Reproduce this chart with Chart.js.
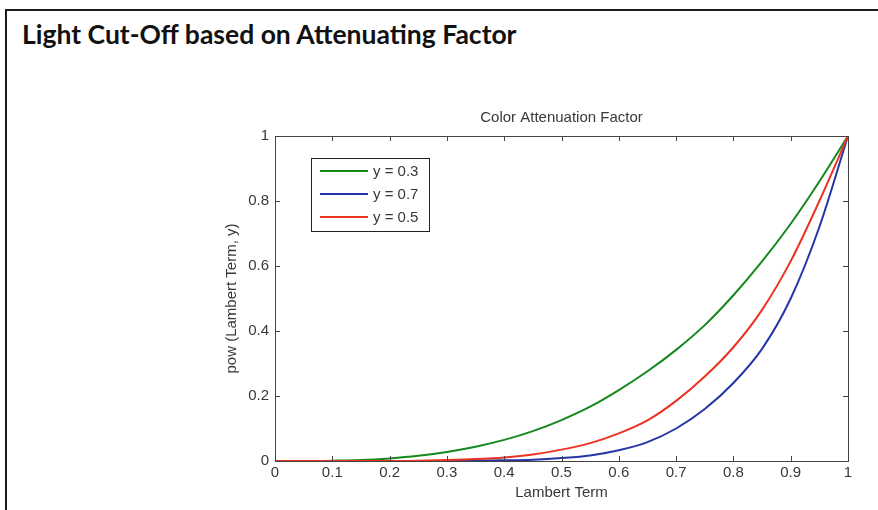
<!DOCTYPE html>
<html>
<head>
<meta charset="utf-8">
<script src="https://cdn.jsdelivr.net/npm/chart.js@4.4.0/dist/chart.umd.min.js"></script>
<style>
html, body { margin: 0; padding: 0; background: #fff; }
#wrap { position: relative; width: 878px; height: 510px; overflow: hidden; }
#frame { position: absolute; left: 5px; top: 9px; width: 900px; height: 600px;
         border-left: 2px solid #1a1a1a; border-top: 2px solid #1a1a1a; }
#heading { position: absolute; left: 22px; top: 21px; font: bold 26.5px/26px Lato, sans-serif; color: #111; }
canvas { position: absolute; left: 0; top: 0; }
</style>
</head>
<body>
<div id="wrap">
  <div id="frame"></div>
  <div id="heading">Light Cut-Off based on Attenuating Factor</div>
  <canvas id="attChart" width="878" height="510"></canvas>
</div>
<script>
// values
const lambertTerm = [0, 0.05, 0.1, 0.15, 0.2, 0.25, 0.3, 0.35, 0.4, 0.45, 0.5,
                     0.55, 0.6, 0.65, 0.7, 0.75, 0.8, 0.85, 0.9, 0.95, 1];
const powY03 = [0, 0, 0.001, 0.003, 0.008, 0.016, 0.028, 0.044, 0.065, 0.092, 0.126,
                0.167, 0.218, 0.276, 0.342, 0.418, 0.51, 0.614, 0.73, 0.86, 1];
const powY07 = [0, 0, 0, 0, 0, 0, 0, 0.001, 0.002, 0.004, 0.009,
                0.017, 0.033, 0.058, 0.1, 0.16, 0.24, 0.345, 0.5, 0.72, 1];
const powY05 = [0, 0, 0, 0, 0, 0.001, 0.003, 0.006, 0.011, 0.02, 0.035,
                0.055, 0.085, 0.125, 0.185, 0.26, 0.35, 0.465, 0.615, 0.8, 1];
const seriesLabels = ['y = 0.3', 'y = 0.7', 'y = 0.5'];
const xTickValues = [0, 0.1, 0.2, 0.3, 0.4, 0.5, 0.6, 0.7, 0.8, 0.9, 1];
const xTickLabels = ['0', '0.1', '0.2', '0.3', '0.4', '0.5', '0.6', '0.7', '0.8', '0.9', '1'];
const yTickValues = [0, 0.2, 0.4, 0.6, 0.8, 1];
const yTickLabels = ['0', '0.2', '0.4', '0.6', '0.8', '1'];

const plotTitle = 'Color Attenuation Factor';
const textColor = '#383838';
const axisColor = '#444';
const fontFamily = '"Liberation Sans", Arial, sans-serif';

function toPoints(ys) {
    return lambertTerm.map((x, i) => ({ x: x, y: ys[i] }));
}

// MATLAB-like box, inward ticks, title and boxed legend
const matlabFrame = {
    id: 'matlabFrame',
    afterDatasetsDraw(chart) {
        const { ctx, chartArea: a, scales } = chart;
        ctx.save();
        ctx.strokeStyle = axisColor;
        ctx.lineWidth = 1;
        ctx.strokeRect(a.left + 0.5, a.top + 0.5, a.right - a.left, a.bottom - a.top);
        const len = 5;
        ctx.beginPath();
        xTickValues.forEach(v => {
            const px = Math.round(scales.x.getPixelForValue(v)) + 0.5;
            ctx.moveTo(px, a.bottom); ctx.lineTo(px, a.bottom - len);
            ctx.moveTo(px, a.top); ctx.lineTo(px, a.top + len);
        });
        yTickValues.forEach(v => {
            const py = Math.round(scales.y.getPixelForValue(v)) + 0.5;
            ctx.moveTo(a.left, py); ctx.lineTo(a.left + len, py);
            ctx.moveTo(a.right, py); ctx.lineTo(a.right - len, py);
        });
        ctx.stroke();
        ctx.restore();
    },
    afterDraw(chart) {
        const { ctx, chartArea: a } = chart;
        ctx.save();
        // title
        ctx.fillStyle = textColor;
        ctx.font = '15px ' + fontFamily;
        ctx.textAlign = 'center';
        ctx.textBaseline = 'middle';
        ctx.fillText(plotTitle, (a.left + a.right) / 2, a.top - 18);

        // legend
        const lx = a.left + 36, ly = a.top + 22, lw = 118, lh = 73;
        ctx.fillStyle = '#fff';
        ctx.fillRect(lx, ly, lw, lh);
        ctx.strokeStyle = '#222';
        ctx.lineWidth = 1;
        ctx.strokeRect(lx + 0.5, ly + 0.5, lw, lh);
        chart.data.datasets.forEach((ds, i) => {
            const ry = ly + 13 + i * 23;
            ctx.strokeStyle = ds.borderColor;
            ctx.lineWidth = 2;
            ctx.beginPath();
            ctx.moveTo(lx + 9, ry);
            ctx.lineTo(lx + 57, ry);
            ctx.stroke();
            ctx.fillStyle = textColor;
            ctx.textAlign = 'left';
            ctx.font = '15px ' + fontFamily;
            ctx.fillText(ds.label, lx + 62, ry + 1);
        });
        ctx.restore();
    }
};

const chart = new Chart(document.getElementById('attChart').getContext('2d'), {
    type: 'line',
    data: {
        datasets: [
            { label: seriesLabels[0], data: toPoints(powY03), borderColor: '#14891c', order: 3 },
            { label: seriesLabels[1], data: toPoints(powY07), borderColor: '#2535a8', order: 2 },
            { label: seriesLabels[2], data: toPoints(powY05), borderColor: '#ec3222', order: 1 }
        ].map(ds => Object.assign(ds, {
            borderWidth: 2,
            pointRadius: 0,
            fill: false,
            cubicInterpolationMode: 'monotone'
        }))
    },
    options: {
        responsive: false,
        animation: false,
        devicePixelRatio: 1,
        layout: { padding: { left: 219, top: 136, right: 30, bottom: 4 } },
        plugins: {
            legend: { display: false },
            tooltip: { enabled: false },
            title: { display: false }
        },
        scales: {
            x: {
                type: 'linear',
                min: 0,
                max: 1,
                afterBuildTicks: scale => { scale.ticks = xTickValues.map(v => ({ value: v })); },
                afterFit: scale => { scale.height = 45; },
                grid: { display: false, drawTicks: false },
                border: { display: false },
                ticks: {
                    color: textColor,
                    padding: 3,
                    maxRotation: 0,
                    autoSkip: false,
                    font: { family: fontFamily, size: 15 },
                    callback: (v, i) => xTickLabels[i]
                },
                title: {
                    display: true,
                    text: 'Lambert Term',
                    color: textColor,
                    font: { family: fontFamily, size: 15 }
                }
            },
            y: {
                min: 0,
                max: 1,
                afterBuildTicks: scale => { scale.ticks = yTickValues.map(v => ({ value: v })); },
                afterFit: scale => { scale.width = 56; },
                grid: { display: false, drawTicks: false },
                border: { display: false },
                ticks: {
                    color: textColor,
                    padding: 6,
                    autoSkip: false,
                    font: { family: fontFamily, size: 15 },
                    callback: (v, i) => yTickLabels[i]
                },
                title: {
                    display: true,
                    text: 'pow (Lambert Term, y)',
                    color: textColor,
                    font: { family: fontFamily, size: 15 }
                }
            }
        }
    },
    plugins: [matlabFrame]
});
</script>
</body>
</html>
